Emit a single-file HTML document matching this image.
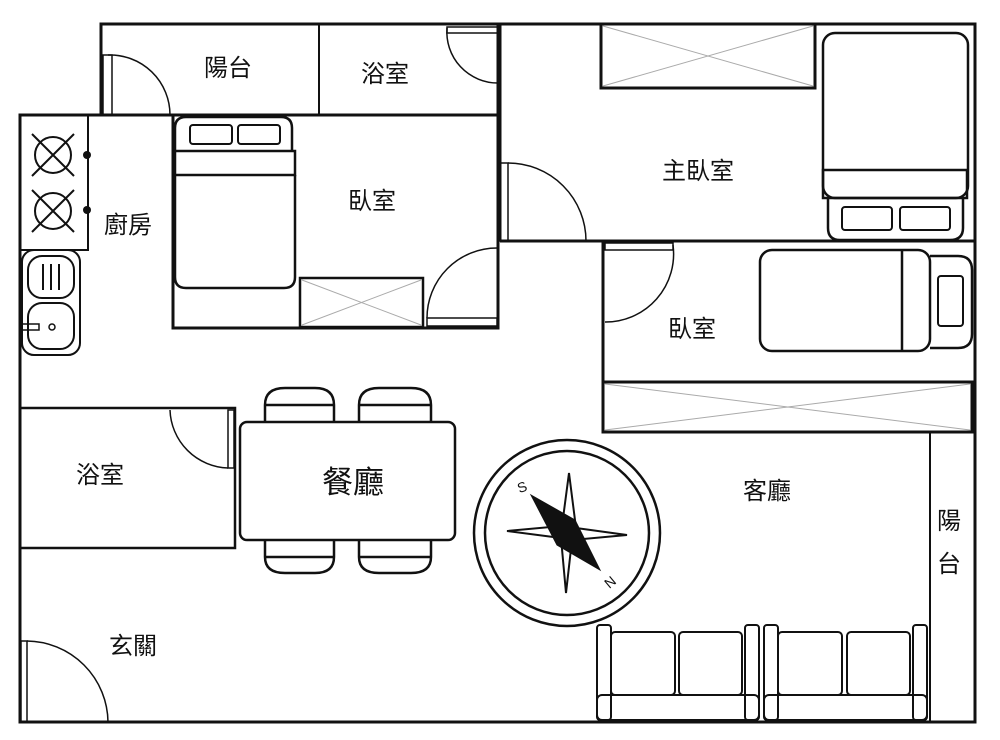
<!DOCTYPE html>
<html><head><meta charset="utf-8"><style>
html,body{margin:0;padding:0;background:#fff;width:1000px;height:740px;overflow:hidden}
svg{display:block}
text{font-family:"Liberation Sans","Noto Sans CJK TC",sans-serif;fill:#111}
</style></head><body>
<svg width="1000" height="740" viewBox="0 0 1000 740" xmlns="http://www.w3.org/2000/svg">
<g fill="none" stroke="#111" stroke-width="3">
<path d="M101 115 V24 H975 V722 H20 V115 H500"/>
<line x1="319" y1="24" x2="319" y2="115" stroke-width="2"/>
<line x1="498" y1="24" x2="498" y2="328"/>
<line x1="500" y1="24" x2="500" y2="241"/>
<rect x="173" y="115" width="325" height="213"/>
<line x1="500" y1="241" x2="975" y2="241"/>
<path d="M603 241 V432 H975"/>
<line x1="930" y1="432" x2="930" y2="722" stroke-width="2"/>
<path d="M20 408 H235 V548 H20" stroke-width="2.5"/>
<rect x="20" y="115" width="68" height="135" stroke-width="2"/>
<rect x="22" y="250" width="58" height="105" rx="12" stroke-width="2"/>
<rect x="28" y="256" width="46" height="42" rx="14" stroke-width="2"/>
<rect x="28" y="303" width="46" height="46" rx="14" stroke-width="2"/>
<line x1="43" y1="264" x2="43" y2="290" stroke-width="2"/><line x1="51" y1="264" x2="51" y2="290" stroke-width="2"/><line x1="59" y1="264" x2="59" y2="290" stroke-width="2"/>
<circle cx="52" cy="327" r="3" stroke-width="1.5"/>
<path d="M23 324 H39 V330 H23" stroke-width="1.5"/>
<g stroke-width="2">
<circle cx="53" cy="155" r="18"/><circle cx="53" cy="211" r="18"/>
<path d="M32 134 L74 176 M74 134 L32 176 M32 190 L74 232 M74 190 L32 232"/>
</g>
<rect x="601" y="24" width="214" height="64"/>
<path d="M603 26 L813 86 M813 26 L603 86" stroke="#aaa" stroke-width="1"/>
<rect x="823" y="33" width="145" height="165" rx="12" stroke-width="2.5"/>
<rect x="823" y="170" width="144" height="28" stroke-width="2.5"/>
<path d="M828 198 V228 Q828 240 840 240 H950 Q963 240 963 228 V198" stroke-width="2.5"/>
<rect x="842" y="207" width="50" height="23" rx="3" stroke-width="2"/>
<rect x="900" y="207" width="50" height="23" rx="3" stroke-width="2"/>
<path d="M175 151 V128 Q175 117 186 117 H281 Q292 117 292 128 V151" stroke-width="2.5"/>
<rect x="190" y="125" width="42" height="19" rx="3" stroke-width="2"/>
<rect x="238" y="125" width="42" height="19" rx="3" stroke-width="2"/>
<rect x="175" y="151" width="120" height="24" stroke-width="2.5"/>
<path d="M175 175 V277 Q175 288 186 288 H284 Q295 288 295 277 V175" stroke-width="2.5"/>
<rect x="300" y="278" width="123" height="49" stroke-width="2.5"/>
<path d="M302 280 L421 325 M421 280 L302 325" stroke="#aaa" stroke-width="1"/>
<rect x="760" y="250" width="170" height="101" rx="12" stroke-width="2.5"/>
<line x1="902" y1="251" x2="902" y2="351" stroke-width="2.5"/>
<path d="M930 256 H958 Q972 256 972 270 V334 Q972 348 958 348 H930" stroke-width="2.5"/>
<rect x="938" y="276" width="25" height="50" rx="3" stroke-width="2"/>
<rect x="603" y="382" width="369" height="50"/>
<path d="M605 384 L970 430 M970 384 L605 430" stroke="#aaa" stroke-width="1"/>
<g stroke-width="1.5">
<path d="M108 55 A60 60 0 0 1 170 115"/><rect x="103" y="55" width="9" height="60"/>
<path d="M447 28 A51 51 0 0 0 498 83"/><rect x="447" y="27" width="51" height="6"/>
<path d="M508 163 A78 78 0 0 1 586 241"/><rect x="500" y="163" width="8" height="78"/>
<path d="M427 318 A70 70 0 0 1 497 248"/><rect x="427" y="318" width="70" height="8"/>
<path d="M673 245 A68 68 0 0 1 605 322"/><rect x="605" y="243" width="68" height="7"/>
<path d="M170 410 A60 60 0 0 0 228 468"/><rect x="228" y="410" width="6" height="58"/>
<path d="M27 641 A82 82 0 0 1 108 722"/><rect x="21" y="641" width="6" height="81"/>
</g>
<g stroke-width="2.5">
<path d="M265 422 V405 Q265 388 285 388 H315 Q334 388 334 405 V422"/><line x1="265" y1="405" x2="334" y2="405"/>
<path d="M359 422 V405 Q359 388 379 388 H411 Q431 388 431 405 V422"/><line x1="359" y1="405" x2="431" y2="405"/>
<path d="M265 540 V557 Q265 573 285 573 H315 Q334 573 334 557 V540"/><line x1="265" y1="557" x2="334" y2="557"/>
<path d="M359 540 V557 Q359 573 379 573 H411 Q431 573 431 557 V540"/><line x1="359" y1="557" x2="431" y2="557"/>
<rect x="240" y="422" width="215" height="118" rx="7"/>
</g>
<circle cx="567" cy="533" r="93" stroke-width="2.5"/>
<circle cx="567" cy="533" r="82" stroke-width="2.5"/>
<path d="M569 473 L576 528 L627 535 L572 540 L566 593 L561 538 L507 531 L562 526 Z" stroke-width="2"/>
<path d="M531 495 L575 520 L600 570 L557 545 Z" fill="#111" stroke-width="1"/>
<g stroke-width="2">
<rect x="597" y="625" width="14" height="95" rx="3"/><rect x="745" y="625" width="14" height="95" rx="3"/>
<rect x="611" y="632" width="64" height="63" rx="4"/><rect x="679" y="632" width="63" height="63" rx="4"/>
<rect x="597" y="695" width="162" height="25" rx="5"/>
<rect x="764" y="625" width="14" height="95" rx="3"/><rect x="913" y="625" width="14" height="95" rx="3"/>
<rect x="778" y="632" width="64" height="63" rx="4"/><rect x="847" y="632" width="63" height="63" rx="4"/>
<rect x="764" y="695" width="163" height="25" rx="5"/>
</g>
</g>
<circle cx="87" cy="155" r="4" fill="#111"/><circle cx="87" cy="210" r="4" fill="#111"/>
<text x="522" y="492" font-size="14" transform="rotate(-20 522 487)" text-anchor="middle">S</text>
<text x="610" y="587" font-size="14" transform="rotate(-40 610 582)" text-anchor="middle">N</text>
<g font-size="24" text-anchor="middle">
<text x="228" y="76">陽台</text>
<text x="385" y="82">浴室</text>
<text x="372" y="209">臥室</text>
<text x="698" y="179">主臥室</text>
<text x="128" y="233">廚房</text>
<text x="692" y="337">臥室</text>
<text x="100" y="483">浴室</text>
<text x="353" y="493" font-size="31">餐廳</text>
<text x="767" y="499">客廳</text>
<text x="949" y="529">陽</text>
<text x="949" y="572">台</text>
<text x="133" y="654">玄關</text>
</g>
</svg>
</body></html>
